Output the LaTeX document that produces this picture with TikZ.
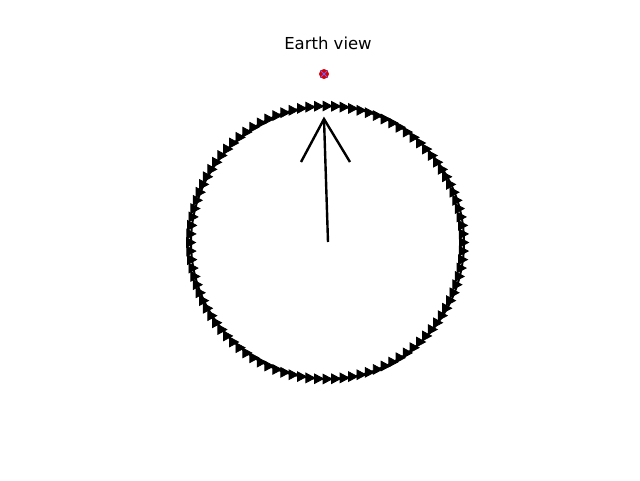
\documentclass[tikz,border=0pt]{standalone}
\usepackage{fontspec}
\setmainfont{DejaVu Sans}
\usetikzlibrary{calc}
\begin{document}
\begin{tikzpicture}[x=1pt,y=-1pt,
  orbit/.style={line width=2pt,black},
  tri/.style={fill=black,draw=black,line width=0.8pt,line join=miter},
  pointer/.style={line width=2.4pt,black,line cap=butt},
  titletext/.style={font=\fontsize{16.5}{20}\selectfont,inner sep=0pt}]
\useasboundingbox (0,0) rectangle (640,480);
\fill[white] (0,0) rectangle (640,480);
\coordinate (c) at (327.5,242.5);
\draw[orbit] (c) circle[radius=136.5];
\foreach \i in {0,...,99}{
  \pgfmathsetmacro{\a}{\i*3.6}
  \filldraw[tri] ($(c)+(\a:136.5)$) ++(4.5,0) -- ++(-9,4.8) -- ++(0,-9.6) -- cycle;
}
\coordinate (tail) at (328,242);
\coordinate (tip) at (324,119);
\coordinate (hl) at (301,162);
\coordinate (hr) at (350,162);
\draw[pointer] (tail) -- (tip);
\draw[pointer,line join=miter] (hl) -- (tip) -- (hr);
\node[circle,fill=red!85!black,inner sep=0pt,minimum size=10pt] (earth) at (324,74) {};
\draw[blue!60,line width=1pt] ($(earth)+(-3.5,-3.5)$) -- ($(earth)+(3.5,3.5)$) ($(earth)+(-3.5,3.5)$) -- ($(earth)+(3.5,-3.5)$);
\node[titletext] (title) at (328,43) {Earth view};
\end{tikzpicture}
\end{document}
